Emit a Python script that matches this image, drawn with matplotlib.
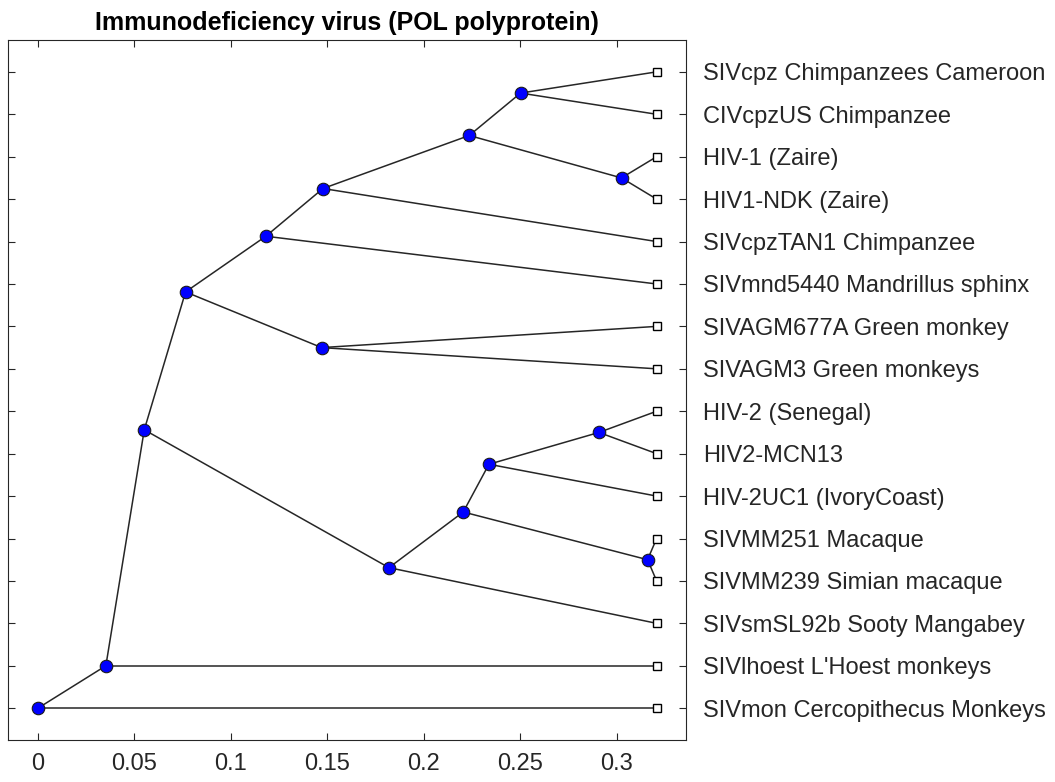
import matplotlib
matplotlib.use('Agg')
import matplotlib.pyplot as plt

plt.rcParams['font.family'] = ['Liberation Sans', 'DejaVu Sans']

# leaves, from bottom (y=1) to top (y=16)
leaf_names = ['SIVmon Cercopithecus Monkeys', "SIVlhoest L'Hoest monkeys",
              'SIVsmSL92b Sooty Mangabey', 'SIVMM239 Simian macaque',
              'SIVMM251 Macaque', 'HIV-2UC1 (IvoryCoast)', 'HIV2-MCN13',
              'HIV-2 (Senegal)', 'SIVAGM3 Green monkeys', 'SIVAGM677A Green monkey',
              'SIVmnd5440 Mandrillus sphinx', 'SIVcpzTAN1 Chimpanzee',
              'HIV1-NDK (Zaire)', 'HIV-1 (Zaire)', 'CIVcpzUS Chimpanzee',
              'SIVcpz Chimpanzees Cameroon']
leaf_dist = 0.3206
leaf_parent = ['root', 'N', 'L', 'J', 'J', 'I', 'H', 'H', 'F', 'F',
               'E', 'D', 'C', 'C', 'A', 'A']

# internal nodes: name, distance from root, y position, parent
node_names = ['root', 'N', 'M', 'G', 'E', 'D', 'B', 'A', 'C', 'F', 'L', 'K', 'I', 'H', 'J']
node_dist = [0.0, 0.0352, 0.0551, 0.0765, 0.1181, 0.1477, 0.2235, 0.2501, 0.3024,
             0.1470, 0.1819, 0.2204, 0.2337, 0.2907, 0.3159]
node_y = [1, 2, 7.5625, 10.8125, 12.125, 13.25, 14.5, 15.5, 13.5,
          9.5, 4.3125, 5.625, 6.75, 7.5, 4.5]
node_parent = [None, 'root', 'N', 'M', 'G', 'E', 'D', 'B', 'B',
               'G', 'M', 'L', 'K', 'I', 'K']

pos = {n: (x, y) for n, x, y in zip(node_names, node_dist, node_y)}
leaf_y = list(range(1, len(leaf_names) + 1))

fig = plt.figure(figsize=(10.55, 7.82), dpi=100)
ax = fig.add_axes([0.0076, 0.0537, 0.6426, 0.8951])

lc = '#262626'
for n, p in zip(node_names, node_parent):
    if p is None:
        continue
    ax.plot([pos[p][0], pos[n][0]], [pos[p][1], pos[n][1]], color=lc, lw=1.1, zorder=1)
for y, p in zip(leaf_y, leaf_parent):
    ax.plot([pos[p][0], leaf_dist], [pos[p][1], y], color=lc, lw=1.1, zorder=1)

ax.plot(node_dist, node_y, 'o', ls='none', ms=9, mfc='#0000ff', mec='#1a1a1a', mew=0.8, zorder=3)
ax.plot([leaf_dist] * len(leaf_y), leaf_y, 's', ls='none', ms=6, mfc='white', mec='black', mew=1.0, zorder=3)

ax.set_xlim(-0.0155, 0.3358)
ax.set_ylim(0.25, 16.75)
ax.set_xticks([0, 0.05, 0.1, 0.15, 0.2, 0.25, 0.3])
ax.set_xticklabels(['0', '0.05', '0.1', '0.15', '0.2', '0.25', '0.3'])
ax.set_yticks(leaf_y)
ax.set_yticklabels(leaf_names)
ax.tick_params(axis='both', direction='in', length=5, width=0.8, color=lc,
               labelsize=17, labelcolor='#262626')
ax.tick_params(axis='x', top=True, bottom=True, pad=9)
ax.tick_params(axis='y', left=True, right=True, labelleft=False, labelright=True, pad=12)
for s in ax.spines.values():
    s.set_color(lc)
    s.set_linewidth(0.8)

ax.set_title('Immunodeficiency virus (POL polyprotein)', fontsize=18, fontweight='bold', pad=7)

fig.savefig('out.png', dpi=100)
